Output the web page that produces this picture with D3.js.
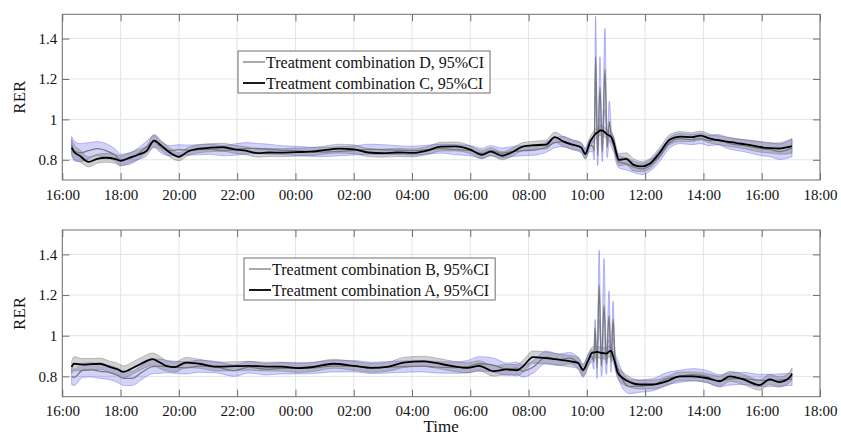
<!DOCTYPE html>
<html><head><meta charset="utf-8">
<script src="https://cdn.jsdelivr.net/npm/d3@7"></script>
<style>
body{margin:0;background:#fff}
svg{display:block}
text{font-family:"Liberation Serif","Times New Roman",serif;fill:#111}
</style>
</head><body>
<svg id="chart" width="841" height="437"></svg>
<script>
// ---------------- data ----------------
const xTickLabels = ["16:00","18:00","20:00","22:00","00:00","02:00","04:00","06:00","08:00","10:00","12:00","14:00","16:00","18:00"];
const yTicks = [0.8, 1, 1.2, 1.4];
const yLabel = "RER";
const xLabel = "Time";

// top panel (hours after 16:00)
const topTime = [0.32,0.4,0.6,0.9,1.2, 1.5,1.8,2.0,2.3,2.6, 2.9,3.15,3.4,3.7,4.0, 4.3,4.7,5.1,5.5,5.9,
  6.3,6.7,7.1,7.5,8.0, 8.5,9.0,9.5,10.0,10.5, 11.0,11.5,12.0,12.5,13.0, 13.5,14.0,14.4,14.7,15.1,
  15.4,15.8,16.2,16.6,16.9, 17.2,17.5,17.8,17.95,18.1, 18.2,18.25,18.3,18.37,18.45, 18.53,18.62,18.7,18.77,18.85,
  18.93,19.0,19.1,19.35,19.6, 19.9,20.15,20.5,20.85,21.2, 21.6,21.9,22.2,22.5,22.8, 23.1,23.4,23.7,24.0,24.3,
  24.6,24.8,25.04];
const topMeanC = [0.86,0.84,0.82,0.79,0.805, 0.81,0.805,0.795,0.81,0.825, 0.845,0.895,0.87,0.835,0.815, 0.84,0.855,0.86,0.862,0.852,
  0.845,0.833,0.836,0.835,0.838, 0.84,0.848,0.855,0.852,0.836, 0.833,0.836,0.834,0.845,0.865, 0.866,0.85,0.825,0.84,0.82,
  0.835,0.865,0.872,0.875,0.912, 0.89,0.875,0.862,0.828,0.885, 0.91,0.92,0.93,0.935,0.945, 0.945,0.935,0.925,0.92,0.91,
  0.88,0.84,0.80,0.805,0.775, 0.767,0.78,0.835,0.9,0.915, 0.912,0.92,0.906,0.897,0.89, 0.884,0.877,0.87,0.862,0.858,
  0.856,0.86,0.868];
const topCiC = [0.04,0.035,0.03,0.025,0.022, 0.022,0.022,0.025,0.025,0.025, 0.025,0.03,0.025,0.022,0.02, 0.02,0.02,0.02,0.02,0.02,
  0.02,0.02,0.02,0.02,0.02, 0.02,0.02,0.022,0.022,0.02, 0.02,0.02,0.02,0.02,0.022, 0.022,0.02,0.02,0.02,0.02,
  0.02,0.02,0.02,0.022,0.025, 0.025,0.022,0.022,0.025,0.025, 0.025,0.025,0.025,0.025,0.025, 0.025,0.025,0.025,0.025,0.025,
  0.03,0.03,0.03,0.03,0.03, 0.025,0.025,0.025,0.025,0.025, 0.022,0.022,0.022,0.022,0.022, 0.022,0.022,0.025,0.025,0.025,
  0.028,0.032,0.035];
const topMeanD = [0.875,0.845,0.835,0.845,0.855, 0.845,0.825,0.80,0.805,0.83, 0.865,0.89,0.86,0.845,0.85, 0.848,0.85,0.852,0.845,0.85,
  0.857,0.856,0.852,0.848,0.845, 0.84,0.838,0.842,0.846,0.852, 0.85,0.848,0.845,0.85,0.855, 0.85,0.845,0.832,0.845,0.833,
  0.84,0.845,0.848,0.862,0.885, 0.89,0.875,0.86,0.835,0.87, 0.87,0.84,1.31,0.82,1.16, 0.84,1.25,0.86,0.99,0.9,
  0.87,0.82,0.79,0.78,0.765, 0.755,0.77,0.82,0.885,0.905, 0.9,0.905,0.895,0.9,0.885, 0.875,0.87,0.862,0.855,0.85,
  0.84,0.845,0.86];
const topCiD = [0.04,0.05,0.045,0.04,0.035, 0.035,0.03,0.028,0.028,0.028, 0.028,0.03,0.028,0.025,0.025, 0.025,0.025,0.025,0.025,0.028,
  0.028,0.025,0.025,0.022,0.022, 0.022,0.022,0.022,0.022,0.025, 0.025,0.022,0.022,0.022,0.022, 0.025,0.025,0.025,0.025,0.025,
  0.025,0.025,0.025,0.025,0.025, 0.025,0.025,0.025,0.025,0.03, 0.03,0.04,0.2,0.05,0.15, 0.05,0.2,0.05,0.1,0.04,
  0.035,0.03,0.03,0.03,0.028, 0.028,0.028,0.028,0.025,0.025, 0.025,0.025,0.025,0.025,0.028, 0.028,0.03,0.032,0.035,0.035,
  0.038,0.04,0.045];

// bottom panel
const botTime = [0.32,0.4,0.7,1.0,1.3, 1.6,1.9,2.1,2.4,2.7, 3.1,3.35,3.6,3.85,4.25, 4.7,5.3,5.9,6.4,7.0,
  7.5,8.1,8.6,9.3,10.0, 10.6,11.2,11.7,12.4,12.8, 13.4,13.9,14.3,14.8,15.25, 15.6,15.8,16.15,16.6,17.05,
  17.4,17.7,17.87,18.05,18.17, 18.24,18.28,18.35,18.42,18.5, 18.59,18.67,18.76,18.83,18.9,
  18.97,19.06,19.23,19.47,19.82, 20.27,20.73,21.19,21.63,22.1, 22.56,22.9,23.35,23.93,24.27, 24.6,24.96,25.04];
const botMeanA = [0.845,0.862,0.858,0.86,0.862, 0.848,0.835,0.822,0.84,0.862, 0.885,0.868,0.85,0.845,0.868, 0.862,0.848,0.85,0.852,0.848,
  0.848,0.841,0.846,0.862,0.852, 0.842,0.848,0.868,0.874,0.866, 0.85,0.842,0.852,0.826,0.834, 0.83,0.848,0.895,0.89,0.882,
  0.875,0.866,0.832,0.88,0.915, 0.918,0.918,0.92,0.918,0.915, 0.914,0.912,0.922,0.925,0.9,
  0.866,0.818,0.792,0.772,0.76, 0.76,0.775,0.80,0.80,0.792, 0.776,0.80,0.786,0.757,0.785, 0.772,0.795,0.812];
const botCiA = [0.03,0.035,0.03,0.028,0.028, 0.028,0.03,0.03,0.03,0.03, 0.03,0.03,0.025,0.025,0.025, 0.022,0.022,0.022,0.022,0.022,
  0.022,0.022,0.022,0.022,0.022, 0.022,0.022,0.025,0.025,0.025, 0.025,0.025,0.025,0.025,0.025, 0.028,0.03,0.03,0.03,0.028,
  0.028,0.028,0.03,0.03,0.028, 0.028,0.028,0.028,0.028,0.028, 0.028,0.028,0.028,0.028,0.03,
  0.03,0.03,0.03,0.025,0.022, 0.022,0.022,0.022,0.022,0.022, 0.025,0.025,0.025,0.025,0.025, 0.025,0.025,0.03];
const botMeanB = [0.80,0.795,0.83,0.832,0.825, 0.82,0.805,0.79,0.79,0.817, 0.848,0.85,0.848,0.845,0.842, 0.85,0.845,0.828,0.845,0.835,
  0.84,0.84,0.842,0.85,0.85, 0.842,0.845,0.848,0.85,0.845, 0.843,0.848,0.862,0.855,0.835, 0.84,0.826,0.845,0.895,0.882,
  0.89,0.865,0.825,0.88,0.9, 0.87,1.04,0.84,1.25,0.85, 1.15,0.86,1.10,0.87,1.08,
  0.88,0.84,0.78,0.75,0.752, 0.759,0.788,0.80,0.808,0.80, 0.778,0.787,0.79,0.78,0.78, 0.782,0.785,0.785];
const botCiB = [0.04,0.04,0.035,0.035,0.035, 0.035,0.035,0.035,0.035,0.035, 0.035,0.035,0.03,0.03,0.03, 0.03,0.028,0.028,0.028,0.028,
  0.028,0.028,0.028,0.028,0.028, 0.028,0.028,0.028,0.028,0.028, 0.028,0.03,0.035,0.035,0.03, 0.03,0.03,0.03,0.03,0.028,
  0.028,0.028,0.03,0.03,0.03, 0.035,0.04,0.05,0.17,0.05, 0.23,0.05,0.12,0.05,0.09,
  0.04,0.04,0.04,0.035,0.03, 0.03,0.03,0.03,0.03,0.03, 0.03,0.03,0.03,0.03,0.03, 0.03,0.03,0.03];

const topLegend = ["Treatment combination D, 95%CI", "Treatment combination C, 95%CI"];
const botLegend = ["Treatment combination B, 95%CI", "Treatment combination A, 95%CI"];

// ---------------- drawing ----------------
const svg = d3.select("#chart");
const start = new Date(2021, 0, 1, 16, 0);
const toDate = h => new Date(start.getTime() + h * 3600e3);
const X0 = 62.3, X1 = 820;
const x = d3.scaleTime().domain([toDate(0), toDate(26)]).range([X0, X1]);
const xTickValues = xTickLabels.map((_, i) => toDate(2 * i));

const frameCol = "#6e6e6e", gridCol = "#e4e4e4";
const blueFill = "rgba(70,70,235,0.24)", blueEdge = "rgba(70,70,235,0.42)";
const greyFill = "rgba(90,90,90,0.28)", greyEdge = "rgba(90,90,90,0.42)";
const greyLine = "#7a7a7a";

function panel(id, top, bottom, time, meanBlack, ciBlack, meanGrey, ciGrey, legend, lx, ly, showXLabel) {
  const y = d3.scaleLinear().domain([0.7, 1.52]).range([bottom, top]);
  const g = svg.append("g");

  svg.append("clipPath").attr("id", id).append("rect")
    .attr("x", X0).attr("y", top).attr("width", X1 - X0).attr("height", bottom - top);

  // grid
  g.append("g").selectAll("line").data(xTickValues).join("line")
    .attr("x1", d => x(d)).attr("x2", d => x(d)).attr("y1", top).attr("y2", bottom)
    .attr("stroke", gridCol).attr("stroke-width", 1);
  g.append("g").selectAll("line").data(yTicks).join("line")
    .attr("x1", X0).attr("x2", X1).attr("y1", d => y(d)).attr("y2", d => y(d))
    .attr("stroke", gridCol).attr("stroke-width", 1);

  const idx = time.map((_, i) => i);
  const px = i => x(toDate(time[i]));
  const area = (m, c) => d3.area().x(px).y0(i => y(m[i] - c[i])).y1(i => y(m[i] + c[i])).curve(d3.curveMonotoneX);
  const line = m => d3.line().x(px).y(i => y(m[i])).curve(d3.curveMonotoneX);

  const plot = g.append("g").attr("clip-path", `url(#${id})`);
  plot.append("path").datum(idx).attr("d", area(meanGrey, ciGrey))
    .attr("fill", blueFill).attr("stroke", blueEdge).attr("stroke-width", 0.8);
  plot.append("path").datum(idx).attr("d", area(meanBlack, ciBlack))
    .attr("fill", greyFill).attr("stroke", greyEdge).attr("stroke-width", 0.8);
  plot.append("path").datum(idx).attr("d", line(meanGrey))
    .attr("fill", "none").attr("stroke", greyLine).attr("stroke-width", 1.3);
  plot.append("path").datum(idx).attr("d", line(meanBlack))
    .attr("fill", "none").attr("stroke", "#000").attr("stroke-width", 1.8);

  // axes
  const styleAxis = sel => {
    sel.select(".domain").remove();
    sel.selectAll(".tick line").attr("stroke", frameCol);
    sel.selectAll(".tick text").attr("font-size", 15).attr("fill", "#111")
      .attr("font-family", '"Liberation Serif","Times New Roman",serif');
  };
  g.append("g").attr("transform", `translate(0,${bottom})`)
    .call(d3.axisBottom(x).tickValues(xTickValues).tickFormat((d, i) => xTickLabels[i])
      .tickSizeInner(-7).tickSizeOuter(0).tickPadding(9)).call(styleAxis);
  g.append("g").attr("transform", `translate(0,${top})`)
    .call(d3.axisTop(x).tickValues(xTickValues).tickFormat("").tickSizeInner(-7).tickSizeOuter(0)).call(styleAxis);
  g.append("g").attr("transform", `translate(${X0},0)`)
    .call(d3.axisLeft(y).tickValues(yTicks).tickFormat(d3.format("~g"))
      .tickSizeInner(-7).tickSizeOuter(0).tickPadding(5)).call(styleAxis);
  g.append("g").attr("transform", `translate(${X1},0)`)
    .call(d3.axisRight(y).tickValues(yTicks).tickFormat("").tickSizeInner(-7).tickSizeOuter(0)).call(styleAxis);

  g.append("rect").attr("x", X0).attr("y", top).attr("width", X1 - X0).attr("height", bottom - top)
    .attr("fill", "none").attr("stroke", frameCol).attr("stroke-width", 1);

  g.append("text").attr("transform", `translate(25,${(top + bottom) / 2}) rotate(-90)`)
    .attr("text-anchor", "middle").attr("font-size", 17).text(yLabel);

  if (showXLabel) {
    g.append("text").attr("x", (X0 + X1) / 2).attr("y", 432)
      .attr("text-anchor", "middle").attr("font-size", 17).text(xLabel);
  }

  // legend
  const lg = g.append("g");
  const box = lg.append("rect").attr("x", lx).attr("y", ly).attr("height", 42)
    .attr("fill", "#fff").attr("stroke", frameCol).attr("stroke-width", 1);
  const styles = [{c: greyLine, w: 1.3}, {c: "#000", w: 1.8}];
  let maxW = 0;
  legend.forEach((lab, i) => {
    const cy = ly + 11 + i * 21;
    lg.append("line").attr("x1", lx + 5).attr("x2", lx + 27).attr("y1", cy).attr("y2", cy)
      .attr("stroke", styles[i].c).attr("stroke-width", styles[i].w);
    const t = lg.append("text").attr("x", lx + 28).attr("y", cy + 5.5).attr("font-size", 16).text(lab);
    maxW = Math.max(maxW, t.node().getComputedTextLength());
  });
  box.attr("width", 28 + maxW + 6);
}

panel("clipTop", 14.3, 180, topTime, topMeanC, topCiC, topMeanD, topCiD, topLegend, 238, 51, false);
panel("clipBot", 230, 396.7, botTime, botMeanA, botCiA, botMeanB, botCiB, botLegend, 244, 258, true);
</script>
</body></html>
